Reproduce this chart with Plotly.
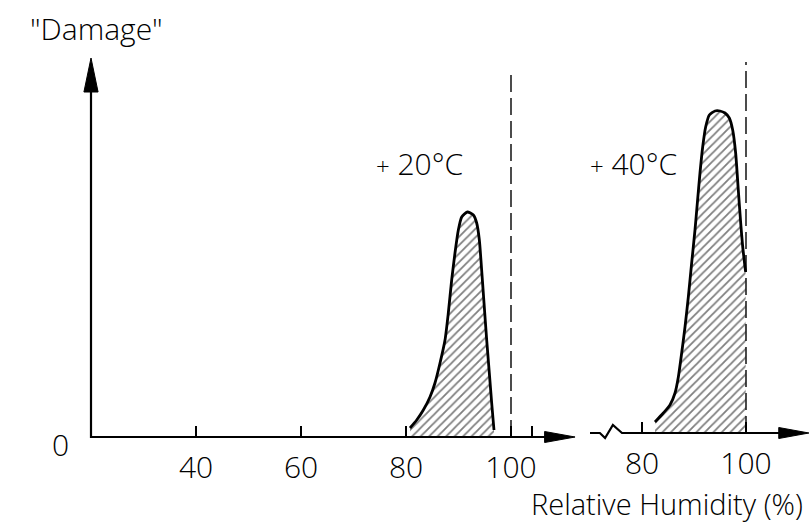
import plotly.graph_objects as go

# ---- data ----
rh_20 = [80.76, 82.04, 83.30, 84.57, 85.52, 86.48, 87.43, 88.06, 88.70, 89.33, 89.97, 90.61, 91.68,
         92.83, 93.46, 93.97, 94.41, 94.86, 95.37, 95.87, 96.32, 96.76]
damage_20 = [9, 17, 27, 40, 54, 74, 97, 124, 157, 184, 207, 220, 225,
             222, 214, 197, 167, 134, 97, 64, 34, 7]

rh_40 = [82.50, 84.10, 85.38, 86.35, 86.99, 87.63, 88.27, 88.91, 89.55, 90.19, 90.64, 91.15, 91.67,
         92.24, 92.95, 94.04, 95.00, 95.96, 96.79, 97.44, 98.01, 98.52, 98.98, 99.37, 99.81, 99.94]
damage_40 = [11, 20, 28, 40, 56, 80, 106, 136, 170, 203, 230, 260, 286,
             306, 318, 322, 322, 320, 315, 303, 280, 243, 210, 186, 166, 161]

left_ticks = [40, 60, 80, 100, 104]
left_tick_text = ["40", "60", "80", "100", ""]
right_ticks = [80, 100]
right_tick_text = ["80", "100"]

saturation_rh = 100
left_axis_start = 20
left_axis_end = 112.2
right_axis_end = 112.1
break_x = [70, 71.9, 72.9, 74.4, 76.15]
break_y = [0, 0, -5, 8, 0]
y_axis_top = 379
dash_top_left = 365
dash_top_right = 371

FONT = "Open Sans"
BLACK = "black"

fig = go.Figure()

# hatched peaks
hatch = dict(shape="/", fgcolor=BLACK, bgcolor="white", size=6, solidity=0.3)
fig.add_trace(go.Scatter(x=rh_20, y=damage_20, mode="lines", line=dict(color=BLACK, width=2.8, shape="spline", smoothing=0.6),
                         fill="tozeroy", fillpattern=hatch, xaxis="x", yaxis="y"))
fig.add_trace(go.Scatter(x=rh_40, y=damage_40, mode="lines", line=dict(color=BLACK, width=2.8, shape="spline", smoothing=0.6),
                         fill="tozeroy", fillpattern=hatch, xaxis="x2", yaxis="y2"))

# dashed 100 % lines
fig.add_trace(go.Scatter(x=[saturation_rh, saturation_rh], y=[0, dash_top_left], mode="lines",
                         line=dict(color=BLACK, width=1.4, dash="17px,6px"), xaxis="x", yaxis="y"))
fig.add_trace(go.Scatter(x=[saturation_rh, saturation_rh], y=[0, dash_top_right], mode="lines",
                         line=dict(color=BLACK, width=1.4, dash="17px,6px"), xaxis="x2", yaxis="y2"))

# axes lines
fig.add_trace(go.Scatter(x=[left_axis_start, left_axis_start, left_axis_end - 3], y=[y_axis_top - 20, 0, 0], mode="lines",
                         line=dict(color=BLACK, width=2.2), xaxis="x", yaxis="y"))
fig.add_trace(go.Scatter(x=break_x + [right_axis_end - 3], y=break_y + [0], mode="lines",
                         line=dict(color=BLACK, width=2.2), xaxis="x2", yaxis="y2"))

# arrowheads (derived from axis ends)
L_x, H_x = 5.8, 5.5   # x-direction head: length in RH units, half-height in damage units
fig.add_trace(go.Scatter(x=[left_axis_end, left_axis_end - L_x, left_axis_end - L_x, left_axis_end],
                         y=[0, H_x, -H_x, 0], mode="lines", fill="toself", fillcolor=BLACK,
                         line=dict(color=BLACK, width=1), xaxis="x", yaxis="y"))
fig.add_trace(go.Scatter(x=[right_axis_end, right_axis_end - L_x, right_axis_end - L_x, right_axis_end],
                         y=[0, H_x, -H_x, 0], mode="lines", fill="toself", fillcolor=BLACK,
                         line=dict(color=BLACK, width=1), xaxis="x2", yaxis="y2"))
L_y, H_y = 34, 1.35
fig.add_trace(go.Scatter(x=[left_axis_start, left_axis_start - H_y, left_axis_start + H_y, left_axis_start],
                         y=[y_axis_top, y_axis_top - L_y, y_axis_top - L_y, y_axis_top], mode="lines", fill="toself",
                         fillcolor=BLACK, line=dict(color=BLACK, width=1), xaxis="x", yaxis="y"))

# labels
txt = dict(family=FONT, size=30, color=BLACK, weight=300)
plus = "<span style='font-size:24px'>+</span> "
fig.add_annotation(x=82.6, y=274, xref="x", yref="y", text=plus + "20°C", showarrow=False, font=txt)
fig.add_annotation(x=78.3, y=270, xref="x2", yref="y2", text=plus + "40°C", showarrow=False, font=txt)
fig.add_annotation(x=21.1, y=409, xref="x", yref="y", text="\"Damage\"", showarrow=False, font=txt)
fig.add_annotation(x=14.1, y=-7, xref="x", yref="y", text="0", showarrow=False, font=txt)
fig.add_annotation(x=84.8, y=-70, xref="x2", yref="y2", text="Relative Humidity (%)", showarrow=False, font=dict(txt, size=29))

ax_common = dict(showline=False, showgrid=False, zeroline=False, ticks="inside", ticklen=11, tickwidth=1.5,
                 tickcolor=BLACK, tickfont=dict(family=FONT, size=30, color=BLACK, weight=300),
                 ticklabelstandoff=10, automargin=False)
fig.update_layout(
    width=809, height=525, margin=dict(l=0, r=0, t=0, b=0, autoexpand=False),
    paper_bgcolor="white", plot_bgcolor="white", showlegend=False,
    xaxis=dict(ax_common, domain=[0, 1], range=[20 - 91 / 5.25, 20 + 718 / 5.25], anchor="free", position=88 / 525,
               tickmode="array", tickvals=left_ticks, ticktext=left_tick_text),
    yaxis=dict(domain=[0, 1], range=[-88, 437], visible=False),
    xaxis2=dict(ax_common, overlaying="x", range=[80 - 642 / 5.2, 80 + 167 / 5.2], anchor="free", position=92 / 525,
                tickmode="array", tickvals=right_ticks, ticktext=right_tick_text),
    yaxis2=dict(overlaying="y", range=[-92, 433], visible=False),
)

fig.write_html("out.html", config={"displayModeBar": False},
               post_script="document.body.style.margin='0';")
